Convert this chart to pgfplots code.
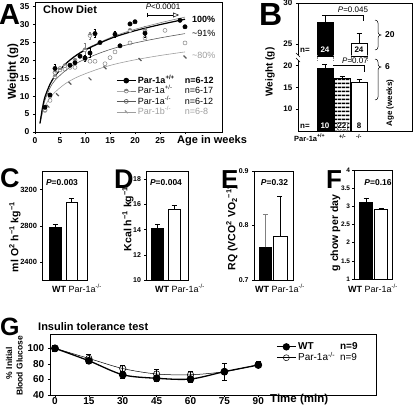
\documentclass[border=0pt]{standalone}
\usepackage{fontspec}
\setmainfont{Liberation Sans}
\usepackage{pgfplots}
\pgfplotsset{compat=1.18}
\usetikzlibrary{patterns.meta,arrows.meta,plotmarks}
\definecolor{gA}{gray}{0.5}
\definecolor{gB}{gray}{0.35}
\definecolor{gC}{gray}{0.62}
\newcommand{\fs}[1]{\fontsize{#1}{#1}\selectfont}
\pgfplotsset{
  base/.style={scale only axis, anchor=south west,
    /pgf/number format/assume math mode=true,
    /pgf/number format/1000 sep={},
    scaled ticks=false,
    tick align=outside, major tick length=2.2pt,
    axis line style={line width=0.7pt},
    every tick/.style={black, line width=0.6pt},
    xtick pos=bottom, ytick pos=left,
    tick label style={font=\bfseries\fs{8}},
  },
  mybar/.style={ybar, bar shift=0pt, draw=black, line width=0.6pt},
  ebar/.style={error bars/.cd, y dir=plus, y explicit,
    error bar style={line width=0.6pt},
    error mark options={rotate=90, mark size=2.5pt, line width=0.6pt}},
  ebarA/.style={error bars/.cd, y dir=both, y explicit,
    error bar style={line width=0.5pt},
    error mark options={rotate=90, mark size=1.4pt, line width=0.5pt}},
  legimg/.style={legend image code/.code={\draw[mark repeat=2,mark phase=2,##1] plot coordinates {(0pt,0pt) (9.5pt,0pt) (19pt,0pt)};}},
}
\begin{document}
\begin{tikzpicture}[t/.style={inner sep=0pt}]
\path[use as bounding box] (0,0) rectangle (416pt,-407pt);

% ================= Panel A =================
\begin{axis}[base, at={(35pt,-132pt)}, width=187pt, height=130pt,
  xmin=0, xmax=37.4, ymin=0, ymax=36.2,
  xtick={0,5,...,30}, xticklabels={0,5,10,15,20,25,{}},
  ytick={0,5,...,35},
  tick label style={font=\bfseries\fs{8.5}},
  clip=false, legimg,
  legend cell align=left,
  legend style={at={(axis description cs:0.417,0.45)}, anchor=north west,
    draw=none, fill=none, font=\fs{9}, row sep=0.6pt, column sep=1pt,
    nodes={inner sep=0.6pt, text height=7pt, text depth=1.6pt}}]
% fitted curves
\addplot[forget plot, gC, line width=0.6pt, smooth] coordinates {(1,2.4) (1.5,5.2) (2,7.2) (3,9.5) (4,11.1) (6,13.4) (8,15) (10,16.2) (13,17.7) (16,18.9) (20,20.1) (25,21.3) (30,22.3)};
\addplot[forget plot, gB, line width=0.6pt, smooth] coordinates {(1,2.4) (1.5,6) (2,8.9) (3,12.3) (4,14.4) (6,17) (8,18.9) (10,20.3) (13,22) (16,23.4) (20,24.8) (25,26.2) (30,27.4)};
\addplot[forget plot, gA, line width=0.6pt, smooth] coordinates {(1,2.4) (1.5,6.8) (2,9.8) (3,13.3) (4,15.6) (6,18.9) (8,21.2) (10,23) (13,25) (16,26.8) (20,28.6) (25,30.4) (30,32)};
\addplot[forget plot, black, line width=1.2pt, smooth] coordinates {(1,2.4) (1.5,6.8) (2,9.8) (3,13.3) (4,15.6) (6,18.8) (8,21.1) (10,22.8) (13,24.8) (16,26.5) (20,28.2) (25,29.9) (30,31.4)};
% Par-1b -/-
\addplot[forget plot, only marks, gB, mark=|, mark size=2pt, mark options={rotate=45, line width=1.2pt}] coordinates {(2.6,7.2) (4.5,10.4) (7,13.6) (11,14.8) (14,17.9) (21,20.2) (30,20.9)};
% Par-1a -/-
\addplot[forget plot, only marks, gA, mark=o, mark size=2pt, mark options={fill=white, line width=0.5pt}] coordinates {(2,6) (3,8.8) (4,16.5) (5,17.7) (6,17.5) (7,18) (8,18) (10,20.3) (11,19.7) (12,19.7) (14,19) (15,20.7) (16,22.3) (19,24.8) (22,26.2) (26,28.3) (30,24.8)};
% Par-1a +/-
\addplot[forget plot, only marks, gA, mark=halfcircle*, mark size=2pt, mark options={fill=gA, line width=0.5pt}, ebarA] coordinates {(2,6.2) (3,10) (4,15.4) (4,16.6) (5,17.3) (6,18.5) (8,20) (10,22.9) +- (0,1.7) (11,26.9) +- (0,1) (19,28.3) (22,28.2) +- (0,1.2)};
% Par-1a +/+
\addplot[forget plot, only marks, black, mark=*, mark size=2.2pt, ebarA] coordinates {(2,6.9) (3,10.3) (4,17.7) +- (0,1.3) (7,18.6) (8,19.3) +- (0,0.5) (9,21.1) (10,20.6) +- (0,0.8) (11,22) +- (0,1.2) (12,27.4) +- (0,1.1) (13,24.9) (16,27.2) +- (0,0.8) (17,24) (19,30.1) (20,30.7) (22,27.5) +- (0,1.2) (29,31.1) (30,29.3)};
% legend
\addlegendimage{black, line width=1.2pt, mark=*, mark size=2.2pt}
\addlegendentry{\textbf{\makebox[47pt][l]{Par-1a\textsuperscript{+/+}}n=6-12}}
\addlegendimage{gA, line width=0.6pt, mark=halfcircle*, mark size=2pt, mark options={fill=gA}}
\addlegendentry{\makebox[47pt][l]{Par-1a\textsuperscript{+/-}}n=6-17}
\addlegendimage{gB, line width=0.6pt, mark=o, mark size=2pt, mark options={fill=white}}
\addlegendentry{\makebox[47pt][l]{Par-1a\textsuperscript{-/-}}n=6-12}
\addlegendimage{gC, line width=0.6pt, mark=|, mark size=2pt, mark options={rotate=45, line width=1.2pt}}
\addlegendentry{\color{gC}\makebox[47pt][l]{Par-1b\textsuperscript{-/-}}n=6-8}
\end{axis}
\node[t, anchor=base west, font=\bfseries\fs{29}] at (-1pt,-24pt) {A};
\node[t, anchor=west, font=\bfseries\fs{11}] at (43pt,-10pt) {Chow Diet};
\node[t, rotate=90, font=\bfseries\fs{11.5}] at (13pt,-72pt) {Weight (g)};
\node[t, anchor=west, font=\bfseries\fs{11}] at (177pt,-141pt) {Age in weeks};
\node[t, font=\fs{8}] at (163pt,-7pt) {\textit{P}<0.0001};
\draw[line width=0.5pt, {Bar[width=4pt]}-{Triangle[open, length=6pt, width=5pt]}] (147pt,-15pt) -- (179pt,-15pt);
\node[t, anchor=west, font=\bfseries\fs{9}] at (192pt,-19pt) {100\%};
\node[t, anchor=west, font=\fs{9}] at (192pt,-33pt) {\textasciitilde91\%};
\node[t, anchor=west, font=\fs{9}, text=gC] at (192pt,-55pt) {\textasciitilde80\%};

% ================= Panel B =================
\begin{axis}[base, at={(298pt,-131pt)}, width=114pt, height=73pt,
  xmin=0, xmax=114, ymin=5, ymax=21.74, ytick={10,15,20}, xtick=\empty,
  axis line style={draw=none}]
\addplot[fill=black, bar width=16pt, mybar, ebar] coordinates {(27,19.4) +- (0,0.9)};
\addplot[pattern={Lines[angle=0,distance=4pt,line width=2pt]}, bar width=16pt, mybar, ebar] coordinates {(44,17.1) +- (0,0.5)};
\addplot[fill=white, bar width=16pt, mybar, ebar] coordinates {(61,16.2) +- (0,0.7)};
\end{axis}
\begin{axis}[base, at={(298pt,-56pt)}, width=114pt, height=53pt,
  xmin=0, xmax=114, ymin=23.57, ymax=30, ytick={25,30}, xtick=\empty,
  axis line style={draw=none}]
\addplot[fill=black, bar width=16pt, mybar, ebar] coordinates {(27,27.6) +- (0,0.9)};
\addplot[fill=white, bar width=16pt, mybar, ebar] coordinates {(61,25.1) +- (0,1.2)};
\end{axis}
\draw[line width=0.7pt] (298pt,-55pt) -- (298pt,-3pt) -- (412pt,-3pt) -- (412pt,-131pt) -- (298pt,-131pt) -- (298pt,-60pt);
\draw[line width=0.5pt] (296pt,-53pt) -- (300pt,-57pt) (296pt,-58pt) -- (300pt,-62pt);
\draw[gray, densely dotted, line width=0.6pt] (317pt,-55pt) -- (317pt,-61pt) (333pt,-55pt) -- (333pt,-61pt) (351pt,-55pt) -- (351pt,-61pt) (367pt,-55pt) -- (367pt,-61pt);
\node[t, anchor=base west, font=\bfseries\fs{32}] at (259pt,-25pt) {B};
\node[t, rotate=90, font=\bfseries\fs{10}] at (270pt,-72pt) {Weight (g)};
\node[t, font=\fs{8}] at (353pt,-10pt) {\textit{P}=0.045};
\draw[line width=0.5pt] (325pt,-15pt) -- (363pt,-15pt) -- (363pt,-20.5pt);
\node[t, font=\fs{8}] at (355pt,-61pt) {\textit{P}=0.07};
\draw[line width=0.5pt] (333pt,-65.7pt) -- (364pt,-65.7pt) -- (364pt,-71.5pt);
\node[t, font=\bfseries\fs{8}] at (305pt,-50pt) {n=};
\node[t, font=\bfseries\fs{8}, text=white] at (325pt,-50pt) {24};
\node[font=\bfseries\fs{8}, fill=white, inner sep=0.8pt] at (359pt,-50pt) {24};
\node[t, font=\bfseries\fs{8}] at (305pt,-126pt) {n=};
\node[t, font=\bfseries\fs{8}, text=white] at (325pt,-126pt) {10};
\node[font=\bfseries\fs{8}, fill=white, draw=gray, densely dotted, inner sep=0.6pt] at (342pt,-126pt) {22};
\node[t, font=\bfseries\fs{8}] at (359pt,-126pt) {8};
\draw[line width=0.5pt] (375pt,-20pt) to[out=0,in=90] (378pt,-23pt) -- (378pt,-32pt) to[out=270,in=180] (381pt,-35pt) to[out=180,in=90] (378pt,-38pt) -- (378pt,-47pt) to[out=270,in=0] (375pt,-50pt);
\draw[line width=0.5pt] (375pt,-59pt) to[out=0,in=90] (378pt,-62pt) -- (378pt,-64pt) to[out=270,in=180] (381pt,-67pt) to[out=180,in=90] (378pt,-70pt) -- (378pt,-97pt) to[out=270,in=0] (375pt,-100pt);
\node[t, anchor=west, font=\bfseries\fs{8.5}] at (385pt,-35pt) {20};
\node[t, anchor=west, font=\bfseries\fs{8.5}] at (385pt,-67pt) {6};
\node[t, rotate=90, font=\bfseries\fs{8}] at (390pt,-103pt) {Age (weeks)};
\node[t, anchor=base west, font=\bfseries\fs{7.5}] at (294pt,-141pt) {Par-1a\textsuperscript{+/+}};
\node[t, anchor=base west, font=\bfseries\fs{5.5}] at (339pt,-138pt) {+/-};
\node[t, anchor=base west, font=\bfseries\fs{5.5}] at (356pt,-138pt) {-/-};

% ================= Panel C =================
\begin{axis}[base, at={(42.7pt,-280pt)}, width=44.6pt, height=108.3pt,
  xmin=0, xmax=44.6, ymin=2200, ymax=3400, ytick={2400,2800,3200}, xtick=\empty,
  tick label style={font=\bfseries\fs{7.5}}]
\addplot[fill=black, bar width=11.5pt, mybar, ebar] coordinates {(12.5,2781) +- (0,39)};
\addplot[fill=white, bar width=11pt, mybar, ebar] coordinates {(28.6,3056) +- (0,48)};
\end{axis}
\node[t, anchor=base west, font=\bfseries\fs{27}] at (0pt,-187pt) {C};
\node[t, font=\bfseries\fs{8.5}] at (62pt,-183pt) {\textit{P}=0.003};
\node[t, rotate=90, font=\bfseries\fs{10.5}] at (15pt,-237pt) {ml O\textsuperscript{2} h\textsuperscript{−1} kg\textsuperscript{−1}};
\node[t, anchor=base west, font=\fs{9}] at (52pt,-292pt) {\textbf{WT} Par-1a\textsuperscript{-/-}};

% ================= Panel D =================
\begin{axis}[base, at={(146.7pt,-280pt)}, width=41.6pt, height=108.3pt,
  xmin=0, xmax=41.6, ymin=10, ymax=18.6, ytick={10,12,14,16,18}, xtick=\empty,
  tick label style={font=\bfseries\fs{7}}]
\addplot[fill=black, bar width=11.5pt, mybar, ebar] coordinates {(10.8,14.1) +- (0,0.35)};
\addplot[fill=white, bar width=11.5pt, mybar, ebar] coordinates {(27.5,15.6) +- (0,0.3)};
\end{axis}
\node[t, anchor=base west, font=\bfseries\fs{27}] at (114pt,-188pt) {D};
\node[t, font=\bfseries\fs{8.5}] at (166pt,-183pt) {\textit{P}=0.004};
\node[t, rotate=90, font=\bfseries\fs{10.5}] at (128pt,-219pt) {Kcal h\textsuperscript{−1} kg\textsuperscript{−1}};
\node[t, anchor=base west, font=\fs{9}] at (155pt,-292pt) {\textbf{WT} Par-1a\textsuperscript{-/-}};

% ================= Panel E =================
\begin{axis}[base, at={(254.3pt,-280pt)}, width=39pt, height=109pt,
  xmin=0, xmax=39, ymin=0.7, ymax=0.9, ytick={0.7,0.8,0.9}, xtick=\empty,
  tick label style={font=\bfseries\fs{7}}]
\addplot[fill=black, bar width=12.5pt, mybar, ebar, error bar style={line width=0.6pt, gray}] coordinates {(11,0.76) +- (0,0.06)};
\addplot[fill=white, bar width=14pt, mybar, ebar] coordinates {(25.5,0.78) +- (0,0.073)};
\end{axis}
\node[t, anchor=base west, font=\bfseries\fs{26}] at (221pt,-188pt) {E};
\node[t, font=\bfseries\fs{8.5}] at (274.5pt,-183pt) {\textit{P}=0.32};
\node[t, rotate=90, font=\bfseries\fs{10.5}] at (232pt,-228pt) {RQ (VCO\textsuperscript{2} VO\textsubscript{2}\textsuperscript{−1})};
\node[t, anchor=base west, font=\fs{9}] at (255pt,-292pt) {\textbf{WT} Par-1a\textsuperscript{-/-}};

% ================= Panel F =================
\begin{axis}[base, at={(354.3pt,-279pt)}, width=38.4pt, height=109pt,
  xmin=0, xmax=38.4, ymin=1, ymax=4, ytick={1,1.5,...,4}, xtick=\empty,
  tick label style={font=\bfseries\fs{6.5}}, yticklabel style={xshift=1.5pt}]
\addplot[fill=black, bar width=13pt, mybar, ebar] coordinates {(11.7,3.12) +- (0,0.11)};
\addplot[fill=white, bar width=13pt, mybar, ebar] coordinates {(26.7,2.92) +- (0,0.03)};
\end{axis}
\node[t, anchor=base west, font=\bfseries\fs{26}] at (326pt,-188pt) {F};
\node[t, font=\bfseries\fs{8.5}] at (378pt,-183pt) {\textit{P}=0.16};
\node[t, rotate=90, font=\bfseries\fs{10.5}] at (335.5pt,-233pt) {g chow per day};
\node[t, anchor=base west, font=\fs{9}] at (348pt,-292pt) {\textbf{WT} Par-1a\textsuperscript{-/-}};

% ================= Panel G =================
\begin{axis}[base, at={(50pt,-395pt)}, width=326pt, height=61pt,
  xmin=-2.2, xmax=142.1, ymin=40, ymax=118.4,
  xtick={0,15,...,90}, ytick={40,60,80,100},
  tick label style={font=\bfseries\fs{10}},
  xticklabel style={yshift=2.8pt},
  legimg, legend cell align=left,
  legend style={at={(axis description cs:0.684,0.91)}, anchor=north west,
    draw=none, fill=none, font=\fs{10}, row sep=0.6pt, column sep=1pt,
    nodes={inner sep=0.6pt, text height=7.5pt, text depth=1.6pt}}]
\addplot[forget plot, black, line width=1.3pt, smooth, mark=*, mark size=3.2pt,
  error bars/.cd, y dir=both, y explicit, error bar style={line width=0.6pt},
  error mark options={rotate=90, mark size=2.5pt, line width=0.6pt}]
  coordinates {(0,100) +- (0,3) (15,84) +- (0,3) (30,66) +- (0,4) (45,61.5) +- (0,3.5) (60,60.5) +- (0,4) (75,70) +- (0,11) (90,78.5) +- (0,3)};
\addplot[forget plot, black, line width=0.5pt, smooth, mark=o, mark size=3.2pt, mark options={fill=white, line width=0.6pt},
  error bars/.cd, y dir=both, y explicit, error bar style={line width=0.6pt},
  error mark options={rotate=90, mark size=2.5pt, line width=0.6pt}]
  coordinates {(0,100) +- (0,4) (15,87) +- (0,5) (30,74) +- (0,4) (45,67) +- (0,6) (60,66) +- (0,5) (75,70) +- (0,3) (90,79) +- (0,4)};
\addlegendimage{black, line width=1.3pt, mark=*, mark size=3pt}
\addlegendentry{\textbf{\makebox[42pt][l]{WT}n=9}}
\addlegendimage{black, line width=0.5pt, mark=o, mark size=3pt, mark options={fill=white}}
\addlegendentry{\makebox[42pt][l]{Par-1a\textsuperscript{-/-}}n=9}
\end{axis}
\node[t, anchor=base west, font=\bfseries\fs{25}] at (0pt,-335pt) {G};
\node[t, anchor=west, font=\bfseries\fs{11}] at (38pt,-327pt) {Insulin tolerance test};
\node[t, rotate=90, font=\bfseries\fs{8.5}] at (9pt,-363pt) {\% Initial};
\node[t, rotate=90, font=\bfseries\fs{8.5}] at (19.5pt,-366pt) {Blood Glucose};
\node[t, anchor=west, font=\bfseries\fs{11.5}] at (270pt,-399.5pt) {Time (min)};
\end{tikzpicture}
\end{document}
